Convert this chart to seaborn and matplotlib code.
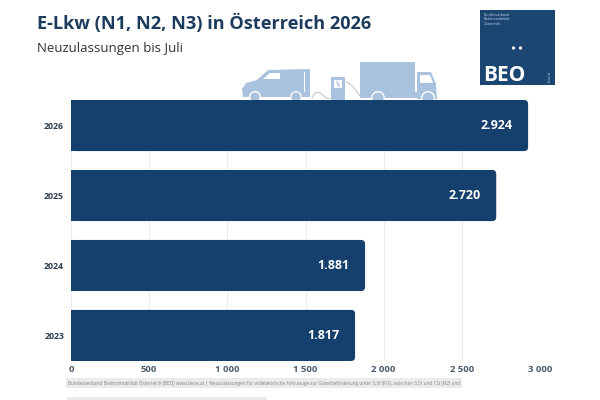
import numpy as np
import pandas as pd
import matplotlib
matplotlib.use("Agg")
import matplotlib.pyplot as plt
import seaborn as sns
from matplotlib.patches import FancyBboxPatch, Rectangle, Circle, Polygon

years = ["2026", "2025", "2024", "2023"]
registrations = [2924, 2720, 1881, 1817]
x_ticks = [0, 500, 1000, 1500, 2000, 2500, 3000]

title = "E-Lkw (N1, N2, N3) in Österreich 2026"
subtitle = "Neuzulassungen bis Juli"
source_1 = ("Bundesverband Elektromobilität Österreich (BEO) www.beoe.at | Neuzulassungen für "
            "vollelektrische Fahrzeuge zur Güterbeförderung unter 3,5t (N1), zwischen 3,5t und 12t (N2) und")

navy = "#153f6c"
logo_blue = "#1b4672"
light = "#a9c2dd"
title_col = "#1d3b5c"

sns.set_theme(style="white")
plt.rcParams["font.family"] = ["Open Sans", "DejaVu Sans"]

df = pd.DataFrame({"Jahr": years, "Neuzulassungen": registrations})

fig = plt.figure(figsize=(6, 4), dpi=100)
fig.patch.set_facecolor("white")

# decoration layer in pixel coordinates
deco = fig.add_axes([0, 0, 1, 1])
deco.set_xlim(0, 600)
deco.set_ylim(400, 0)
deco.axis("off")

ax = fig.add_axes([71 / 600, 1 - 361 / 400, (540 - 71) / 600, (361 - 100) / 400])
ax.set_facecolor("none")
sns.barplot(data=df, x="Neuzulassungen", y="Jahr", color=navy, saturation=1,
            width=0.73, ax=ax)
ax.set_xlim(0, 3000)
ax.set_ylim(3.365, -0.365)

# rounded right corners
bbox = ax.get_window_extent()
x_px = bbox.width / 3000
y_px = bbox.height / 3.73
aspect = x_px / y_px
rad = 4 / x_px
for p in list(ax.patches):
    x, y, w, h = p.get_x(), p.get_y(), p.get_width(), p.get_height()
    p.remove()
    ax.add_patch(FancyBboxPatch((x, y), w, h, boxstyle=f"round,pad=0,rounding_size={rad}",
                                mutation_aspect=aspect, fc=navy, ec="none", zorder=2))
    ax.add_patch(Rectangle((x, y), w / 2, h, fc=navy, ec="none", zorder=2))

for i, v in enumerate(registrations):
    ax.annotate(f"{v:,}".replace(",", "."), (v, i), xytext=(-11, 0), textcoords="offset points",
                ha="right", va="center", color="white", fontsize=9, fontweight="bold", zorder=3)

ax.set_xticks(x_ticks)
ax.set_xticklabels([f"{t:,}".replace(",", " ") for t in x_ticks])
ax.grid(axis="x", color="#e8e8e8", lw=0.6, zorder=0)
ax.set_axisbelow(True)
for s in ax.spines.values():
    s.set_visible(False)
ax.tick_params(axis="x", length=0, pad=3, labelsize=6.8, labelcolor="#4b5a6b")
ax.tick_params(axis="y", length=0, pad=5, labelsize=6.3, labelcolor="#2d3d4f")
for lab in ax.get_xticklabels() + ax.get_yticklabels():
    lab.set_fontweight("bold")
ax.set_xlabel("")
ax.set_ylabel("")

# titles
fig.text(37 / 600, 1 - 29 / 400, title, fontsize=13.1, fontweight="bold", color=title_col,
         va="baseline", ha="left")
fig.text(37 / 600, 1 - 52 / 400, subtitle, fontsize=9.5, color="#333333", va="baseline", ha="left")

# logo
deco.add_patch(Rectangle((480, 10), 75, 75, fc=logo_blue, ec="none"))
deco.text(484, 13, "Bundesverband\nElektromobilität\nÖsterreich", fontsize=2.6, color="#c9d6e4",
          va="top", ha="left", linespacing=1.1)
deco.add_patch(Circle((513.5, 48), 1.6, fc="white", ec="none"))
deco.add_patch(Circle((520.5, 48), 1.6, fc="white", ec="none"))
deco.text(483, 81, "BEO", fontsize=15, fontweight="bold", color="white", va="baseline", ha="left")
deco.text(550, 76, "beoe.at", fontsize=2.3, color="#c9d6e4", rotation=90, va="center", ha="center")

# van
van = [(243, 97), (242, 89), (246, 83), (257, 80), (268, 70), (310, 69), (310, 97)]
deco.add_patch(Polygon(van, closed=True, fc=light, ec="none"))
deco.add_patch(Polygon([(263, 79), (270, 73), (280, 73), (280, 79)], closed=True, fc="white", ec="none"))
deco.add_patch(Rectangle((304, 72), 1, 20, fc="white", ec="none"))
for cx in (255, 296):
    deco.add_patch(Circle((cx, 97), 6, fc="white", ec="none"))
    deco.add_patch(Circle((cx, 97), 4.6, fc=light, ec="none"))

# charger and cables
deco.add_patch(Rectangle((331, 77), 14, 23, fc=light, ec="none"))
deco.add_patch(Rectangle((334, 80), 8, 8, fc="white", ec="none"))
deco.plot([336, 339, 337, 340], [81, 84, 84, 87], color=light, lw=0.7)
tt = np.linspace(0, 1, 30)
deco.plot(312 + 18 * tt, 98 - 14 * np.sin(np.pi * tt) * (1 - tt) + 10 * tt * (1 - tt), color="#b5b5b5", lw=0.6)
deco.plot(346 + 14 * tt, 82 + 14 * tt ** 1.5, color="#b5b5b5", lw=0.6)

# truck
deco.add_patch(Rectangle((360, 62), 55, 30, fc=light, ec="none"))
deco.add_patch(Polygon([(417, 72), (431, 72), (436, 84), (437, 99), (417, 99)], closed=True, fc=light, ec="none"))
deco.add_patch(Polygon([(420, 75), (430, 75), (433, 83), (420, 83)], closed=True, fc="white", ec="none"))
deco.add_patch(Rectangle((360, 92), 58, 6, fc=light, ec="none"))
for cx in (378, 428):
    deco.add_patch(Circle((cx, 98), 7, fc="white", ec="none"))
    deco.add_patch(Circle((cx, 98), 5.6, fc=light, ec="none"))

# footer (second line is cut off at the edge in the source, only its band shows)
fig.text(68 / 600, 1 - 383 / 400, source_1, fontsize=3.3, color="#808080", va="center", ha="left",
         bbox=dict(fc="#ebebeb", ec="none", pad=1.2))
deco.add_patch(Rectangle((67, 396.5), 200, 4, fc="#ebebeb", ec="none"))

fig.savefig("out.png", dpi=100)
